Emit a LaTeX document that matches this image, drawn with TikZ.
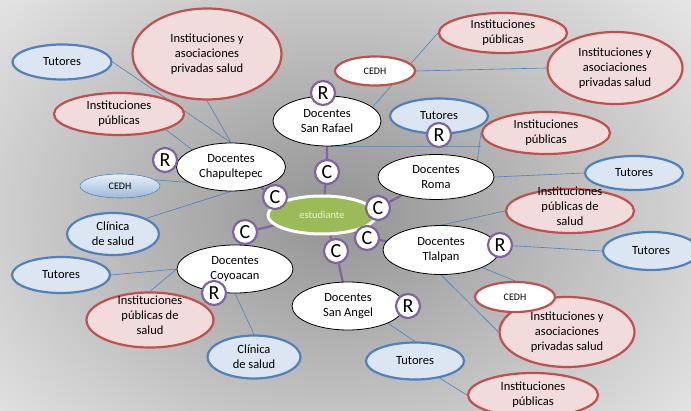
\documentclass[tikz,border=0pt]{standalone}
\usepackage{fontspec}
\setmainfont{Carlito}
\usetikzlibrary{shapes.geometric,backgrounds}
\definecolor{tutfill}{HTML}{DCE6F2}\definecolor{tutline}{HTML}{4F81BD}
\definecolor{pubfill}{HTML}{F2DCDB}\definecolor{publine}{HTML}{C0504D}
\definecolor{rcline}{HTML}{8064A2}\definecolor{estfill}{HTML}{9BBB59}
\newcommand{\stackedtext}[1]{\smash{\begin{tabular}{@{}c@{}}#1\end{tabular}}}

\begin{document}
\begin{tikzpicture}[x=1pt, y=-1pt,
	oval/.style 2 args={ellipse, inner sep=0pt, align=center, minimum width=#1pt, minimum height=#2pt, font=\fontsize{12.5}{15}\selectfont},
	docente/.style={draw=black, line width=0.8pt, fill=white},
	tutor/.style={draw=tutline, line width=2.2pt, fill=tutfill},
	inst/.style={draw=publine, line width=2.2pt, fill=pubfill},
	cedh/.style={draw=publine, line width=2.2pt, fill=white, font=\fontsize{10}{12}\selectfont},
	badge/.style={circle, draw=rcline, line width=2.2pt, fill=white, minimum size=24pt, inner sep=0pt, font=\fontsize{20}{20}\selectfont},
	link/.style={tutline, line width=0.6pt},
	spoke/.style={rcline, line width=2.2pt}]
	\useasboundingbox (0,0) rectangle (691,411);
	% centre and docentes
	\node[oval={108}{38}, draw=white, line width=3pt, fill=estfill, text=white!80!estfill, font=\fontsize{10.5}{12}\selectfont] (est) at (322,215) {estudiante};
	\node[oval={108}{50}, docente] (dRafael) at (327,121) {Docentes\\San Rafael};
	\node[oval={109}{48}, docente] (dChap) at (231,167) {Docentes\\Chapultepec};
	\node[oval={116}{45}, docente] (dRoma) at (436,177) {Docentes\\Roma};
	\node[oval={116}{49}, docente] (dTlal) at (441,250) {Docentes\\Tlalpan};
	\node[oval={116}{48}, docente] (dCoy) at (235,269) {Docentes\\Coyoacan};
	\node[oval={112}{48}, docente] (dAngel) at (348,306) {Docentes\\San Angel};
	% left side
	\node[oval={99}{35}, tutor] (tutA) at (62,62) {Tutores};
	\node[oval={149}{91}, inst] (privA) at (207,54) {Instituciones y\\asociaciones\\privadas salud};
	\node[oval={130}{42}, inst] (pubA) at (119,114) {Instituciones\\públicas};
	\node[oval={80}{24}, draw=tutline, line width=0.6pt, top color=tutfill!60!white, bottom color=tutfill!55!tutline, font=\fontsize{10}{12}\selectfont] (cedhA) at (120,186) {CEDH};
	\node[oval={92}{42}, tutor] (clinA) at (113,234) {Clínica\\de salud};
	\node[oval={98}{36}, tutor] (tutB) at (61,275) {Tutores};
	\node[oval={127}{55}, inst] (pubB) at (150,320) {\stackedtext{Instituciones\\públicas de\\salud}};
	\node[oval={93}{43}, tutor] (clinB) at (254,357) {Clínica\\de salud};
	% bottom and right side
	\node[oval={98}{37}, tutor] (tutC) at (415,361) {Tutores};
	\node[oval={130}{44}, inst] (pubC) at (533,395) {Instituciones\\públicas};
	\node[oval={135}{70}, inst] (privB) at (567,332) {Instituciones y\\asociaciones\\privadas salud};
	\node[oval={80}{30}, cedh] (cedhB) at (515,297) {CEDH};
	\node[oval={96}{38}, tutor] (tutD) at (651,251) {Tutores};
	\node[oval={128}{44}, inst] (pubD) at (570,211) {\stackedtext{Instituciones\\públicas de\\salud}};
	\node[oval={98}{34}, tutor] (tutE) at (634,173) {Tutores};
	\node[oval={128}{42}, inst] (pubE) at (546,133) {Instituciones\\públicas};
	\node[oval={98}{35}, tutor] (tutF) at (439,116) {Tutores};
	\node[oval={80}{29}, cedh] (cedhC) at (375,71) {CEDH};
	\node[oval={128}{40}, inst] (pubF) at (503,33) {Instituciones\\públicas};
	\node[oval={135}{72}, inst] (privC) at (615,68) {Instituciones y\\asociaciones\\privadas salud};
	% R and C badges
	\node[badge] (rRafael) at (323,93) {R}; \node[badge] (rChap) at (165,160) {R};
	\node[badge] (rTut) at (439,135) {R}; \node[badge] (rCoy) at (214,293) {R};
	\node[badge] (rTlal) at (500,245) {R}; \node[badge] (rAngel) at (408,306) {R};
	\node[badge] (cRafael) at (327,172) {C}; \node[badge] (cChap) at (275,197) {C};
	\node[badge] (cCoy) at (245,232) {C}; \node[badge] (cRoma) at (378,208) {C};
	\node[badge] (cTlal) at (367,238) {C}; \node[badge] (cAngel) at (336,251) {C};
	\begin{pgfonlayer}{background}
		\shade[inner color=gray!85, outer color=white] (335,215) ellipse (600 and 440);
		\draw[link] (tutA.east) -- (dChap.north) (privA.south) -- (dChap.north) (pubA.south east) -- (dChap.north west)
			(cedhA.10) -- (dChap.200) (clinA.north east) -- (dChap.south);
		\draw[link] (dRafael.17) -- (pubF.west) (cedhC.east) -- (privC.west) (dRafael.south) -- (dRafael.south -| pubE.west);
		\draw[link] (dRoma.north east) -- (pubE.west) (dRoma.east) -- (tutE.west);
		\draw[link] (dTlal.north) -- (pubD.west) (rTlal) -- (tutD.west) (dTlal.south east) -- (cedhB.north) (dTlal.south) -- (privB.west);
		\draw[link] (dAngel.south east) -- (tutC.north) (tutC.-35) -- (pubC.west);
		\draw[link] (dCoy.west) -- (tutB.east) (dCoy.west) -- (pubB.north) (dCoy.south) -- (clinB.north);
		\draw[spoke] (est) -- (cRafael) -- (dRafael) (est) -- (cChap) -- (dChap) (est) -- (cCoy) -- (dCoy)
			(est) -- (cRoma) -- (dRoma) (est) -- (cTlal) -- (dTlal) (est) -- (cAngel) -- (dAngel);
	\end{pgfonlayer}
\end{tikzpicture}
\end{document}
